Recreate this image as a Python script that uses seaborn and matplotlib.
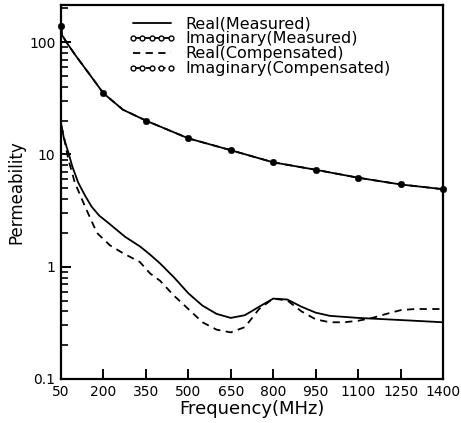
import matplotlib
matplotlib.use("Agg")
import matplotlib.pyplot as plt
import seaborn as sns
from matplotlib.lines import Line2D
from matplotlib.ticker import NullLocator, LogLocator, NullFormatter

sns.set_style("ticks")
plt.rcParams['font.family'] = ['DejaVu Sans']
plt.rcParams['text.color'] = 'black'
plt.rcParams['axes.labelcolor'] = 'black'
plt.rcParams['xtick.color'] = 'black'
plt.rcParams['ytick.color'] = 'black'

# ---- data ----
freq_real_meas = [50, 60, 76, 90, 111, 135, 158, 185, 216, 276, 330, 365, 400, 450, 500,
                  550, 600, 650, 700, 750, 800, 850, 900, 950, 1000, 1100, 1200, 1300, 1400]
real_meas = [19, 14, 10.4, 7.8, 5.6, 4.3, 3.43, 2.85, 2.47, 1.85, 1.51, 1.28, 1.07, 0.8, 0.58,
             0.45, 0.38, 0.35, 0.37, 0.44, 0.52, 0.51, 0.44, 0.39, 0.365, 0.35, 0.34, 0.33, 0.32]

freq_real_comp = [50, 57, 76, 99, 135, 177, 223, 269, 329, 365, 400, 450, 500, 550,
                  600, 650, 700, 750, 800, 850, 900, 950, 1000, 1050, 1100, 1150, 1200,
                  1250, 1300, 1400]
real_comp = [18, 15.7, 9.0, 5.6, 3.43, 2.0, 1.55, 1.32, 1.1, 0.87, 0.75, 0.55, 0.42, 0.32,
             0.275, 0.26, 0.29, 0.42, 0.52, 0.50, 0.40, 0.34, 0.32, 0.32, 0.33, 0.35, 0.38,
             0.41, 0.42, 0.42]

freq_imag = [50, 54, 75, 100, 150, 200, 269, 350, 500, 650, 800, 950, 1100, 1250, 1400]
imag_meas = [140, 115, 95, 77, 52, 35, 25, 20, 13.9, 10.9, 8.5, 7.3, 6.2, 5.4, 4.9]
imag_comp = [140, 115, 95, 77, 52, 35, 25, 20, 13.9, 10.9, 8.5, 7.3, 6.2, 5.4, 4.9]

marker_freqs = [50, 200, 350, 500, 650, 800, 950, 1100, 1250, 1400]
x_ticks = [50, 200, 350, 500, 650, 800, 950, 1100, 1250, 1400]
y_ticks = [0.1, 1, 10, 100]
y_ticklabels = ["0.1", "1", "10", "100"]
labels = ["Real(Measured)", "Imaginary(Measured)", "Real(Compensated)",
          "Imaginary(Compensated)"]

# ---- figure ----
fig = plt.figure(figsize=(4.61, 4.23), dpi=100)
ax = fig.add_axes([61 / 461, 1 - 379 / 423, (443 - 61) / 461, (379 - 5) / 423])

lw = 1.3
dash = (0, (4, 3))
sns.lineplot(x=freq_real_meas, y=real_meas, ax=ax, color="black", lw=lw, legend=False)
sns.lineplot(x=freq_real_comp, y=real_comp, ax=ax, color="black", lw=lw,
             linestyle=dash, legend=False)
sns.lineplot(x=freq_imag, y=imag_meas, ax=ax, color="black", lw=lw, legend=False)
sns.lineplot(x=freq_imag, y=imag_comp, ax=ax, color="black", lw=lw,
             linestyle=dash, legend=False)

mk_x = [f for f in freq_imag if f in marker_freqs]
mk_y = [v for f, v in zip(freq_imag, imag_meas) if f in marker_freqs]
sns.scatterplot(x=mk_x, y=mk_y, ax=ax, color="black", s=22, edgecolor="black",
                zorder=5, legend=False, clip_on=False)

ax.set_yscale("log")
ax.set_xlim(50, 1400)
ax.set_ylim(0.1, 214)
ax.set_xticks(x_ticks)
ax.set_xticklabels([str(t) for t in x_ticks])
ax.xaxis.set_minor_locator(NullLocator())
ax.set_yticks(y_ticks)
ax.set_yticklabels(y_ticklabels)
ax.yaxis.set_minor_locator(LogLocator(base=10, subs=range(2, 10), numticks=20))
ax.yaxis.set_minor_formatter(NullFormatter())

ax.tick_params(axis="both", which="both", direction="in", top=False, right=False,
               colors="black", labelcolor="black", labelsize=10)
ax.tick_params(which="major", length=7, width=1.4, pad=4)
ax.tick_params(which="minor", length=5, width=1.2)

for sp in ax.spines.values():
    sp.set_visible(True)
    sp.set_linewidth(1.6)
    sp.set_color("black")

ax.set_xlabel("Frequency(MHz)", fontsize=13, labelpad=1, color="black")
ax.set_ylabel("Permeability", fontsize=12, labelpad=3, color="black")

handles = [
    Line2D([], [], color="black", lw=lw),
    Line2D([], [], color="black", lw=lw, marker="o", mfc="white", mec="black", ms=3.5,
           mew=1.0),
    Line2D([], [], color="black", lw=lw, linestyle=dash),
    Line2D([], [], color="black", lw=lw, linestyle=dash, marker="o", mfc="white",
           mec="black", ms=3.5, mew=1.0),
]
leg = ax.legend(handles, labels, loc="upper left", bbox_to_anchor=(0.175, 0.97),
                frameon=False, numpoints=5, handlelength=3.0, handletextpad=0.6,
                labelspacing=0, fontsize=11.5, borderpad=0, borderaxespad=0,
                labelcolor="black")

fig.savefig("out.png", dpi=100)
